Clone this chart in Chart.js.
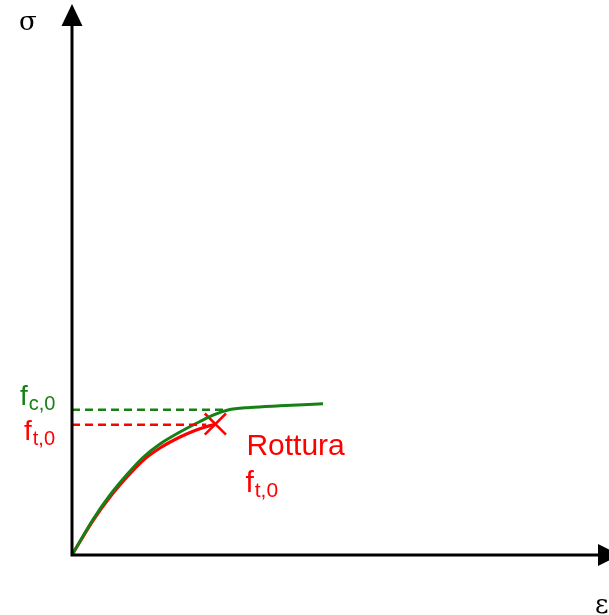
<!DOCTYPE html>
<html>
<head>
<meta charset="utf-8">
<script src="https://cdn.jsdelivr.net/npm/chart.js@4/dist/chart.umd.min.js"></script>
<style>
  html, body { margin: 0; padding: 0; background: #fff; }
  #wrap { width: 609px; height: 615px; position: relative; }
</style>
</head>
<body>
<div id="wrap"><canvas id="c" width="609" height="615"></canvas></div>
<script>
// Strain (ε) and stress (σ) values, arbitrary units
const compStrain = [0, 3.91, 7.08, 10.24, 13.22, 16.39, 20.11, 23.84, 26.63, 29.05, 33.15, 38.73, 46.74];
const compStress = [0, 6.45, 10.91, 14.64, 17.73, 20.18, 22.36, 24.27, 25.55, 26.36, 26.82, 27.13, 27.49];
const tensStrain = [0, 3.91, 7.08, 10.24, 13.22, 16.39, 20.11, 22.91, 25.14, 26.63];
const tensStress = [0, 6.27, 10.55, 14.18, 17.18, 19.45, 21.45, 22.64, 23.36, 23.73];
const fc0 = 26.4;      // compressive strength level
const fc0Strain = 28.9;
const ft0 = 23.7;      // tensile strength level
const ft0Strain = 25.0;
const rupture = { x: 26.7, y: 23.8 };
const xMax = 100, yMax = 100;

const toPts = (xs, ys) => xs.map((x, i) => ({ x, y: ys[i] }));

const overlay = {
  id: 'overlay',
  afterDatasetsDraw(chart) {
    const { ctx, scales } = chart;
    const x0 = scales.x.getPixelForValue(0);
    const y0 = scales.y.getPixelForValue(0);
    const top = scales.y.getPixelForValue(yMax);
    const right = scales.x.getPixelForValue(xMax);
    ctx.save();
    // axes
    ctx.strokeStyle = '#000';
    ctx.fillStyle = '#000';
    ctx.lineWidth = 3;
    ctx.beginPath();
    ctx.moveTo(x0, y0 + 1.5);
    ctx.lineTo(x0, top + 15);
    ctx.moveTo(x0 - 1.5, y0);
    ctx.lineTo(right - 8, y0);
    ctx.stroke();
    // arrow heads
    ctx.beginPath();
    ctx.moveTo(x0, top - 1);
    ctx.lineTo(x0 - 10.5, top + 21);
    ctx.lineTo(x0 + 10.5, top + 21);
    ctx.closePath();
    ctx.fill();
    ctx.beginPath();
    ctx.moveTo(right + 11, y0);
    ctx.lineTo(right - 11, y0 - 11);
    ctx.lineTo(right - 11, y0 + 11);
    ctx.closePath();
    ctx.fill();

    // labels
    const sub = (main, s, x, base, size, subSize, color) => {
      ctx.fillStyle = color;
      ctx.textBaseline = 'alphabetic';
      ctx.textAlign = 'left';
      ctx.font = size + 'px "Liberation Sans", Arial, sans-serif';
      ctx.fillText(main, x, base);
      const w = ctx.measureText(main).width;
      ctx.font = subSize + 'px "Liberation Sans", Arial, sans-serif';
      ctx.fillText(s, x + w + 1, base + 5);
    };
    const yc = scales.y.getPixelForValue(fc0);
    const yt = scales.y.getPixelForValue(ft0);
    sub('f', 'c,0', x0 - 52, yc - 5, 28, 20, '#168016');
    sub('f', 't,0', x0 - 48, yt + 15, 28, 20, '#ff0000');

    const rx = scales.x.getPixelForValue(rupture.x);
    const ry = scales.y.getPixelForValue(rupture.y);
    ctx.fillStyle = '#ff0000';
    ctx.font = '30px "Liberation Sans", Arial, sans-serif';
    ctx.fillText('Rottura', rx + 31, ry + 31);
    sub('f', 't,0', rx + 30, ry + 68, 30, 21, '#ff0000');

    ctx.fillStyle = '#000';
    ctx.font = '26px "DejaVu Serif", serif';
    ctx.fillText('σ', 19, 30);
    ctx.fillText('ε', 595, 613);
    ctx.restore();
  }
};

new Chart(document.getElementById('c'), {
  type: 'scatter',
  data: {
    datasets: [
      {
        label: 'fc0 level',
        data: [{ x: 0, y: fc0 }, { x: fc0Strain, y: fc0 }],
        showLine: true, borderColor: '#168016', borderWidth: 2.5,
        borderDash: [8, 5], pointRadius: 0
      },
      {
        label: 'ft0 level',
        data: [{ x: 0, y: ft0 }, { x: ft0Strain, y: ft0 }],
        showLine: true, borderColor: '#ff0000', borderWidth: 2.5,
        borderDash: [8, 5], pointRadius: 0
      },
      {
        label: 'compressione',
        data: toPts(compStrain, compStress),
        showLine: true, borderColor: '#168016', borderWidth: 3,
        cubicInterpolationMode: 'monotone', pointRadius: 0
      },
      {
        label: 'trazione',
        data: toPts(tensStrain, tensStress),
        showLine: true, borderColor: '#ff0000', borderWidth: 3.2,
        cubicInterpolationMode: 'monotone', pointRadius: 0
      },
      {
        label: 'rottura',
        data: [rupture],
        pointStyle: 'crossRot', pointRadius: 15, borderColor: '#ff0000',
        backgroundColor: '#ff0000', borderWidth: 2.5
      }
    ]
  },
  options: {
    responsive: false,
    animation: false,
    layout: { autoPadding: false, padding: { left: 72, right: 0, top: 5, bottom: 60 } },
    plugins: { legend: { display: false }, tooltip: { enabled: false } },
    scales: {
      x: { type: 'linear', min: 0, max: xMax, display: false },
      y: { type: 'linear', min: 0, max: yMax, display: false }
    }
  },
  plugins: [overlay]
});
</script>
</body>
</html>
